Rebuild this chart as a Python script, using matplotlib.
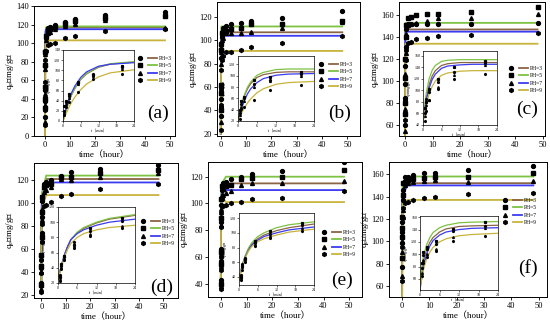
import matplotlib.pyplot as plt
from matplotlib.lines import Line2D
from matplotlib.legend_handler import HandlerTuple

plt.rcParams['font.family'] = ['Liberation Serif', 'Noto Sans CJK SC']
plt.rcParams['mathtext.fontset'] = 'stix'

ph_labels = ['PH=3', 'PH=5', 'PH=7', 'PH=9']
t_min = [0.5, 1, 2, 5, 10, 20]          # early samples (min), shown in inset
t_hr = [1, 2, 4, 8, 12, 24, 48]         # later samples (hour)
fit_min = [0, 1, 2, 3, 4, 6, 8, 12, 16, 24]

# (a)
a_in = [[20, 38, 50, 75, 92, 106], [30, 40, 53, 77, 90, 108],
        [15, 33, 45, 72, 88, 103], [12, 28, 38, 58, 82, 92]]
a_hr = [[116, 117, 120, 123, 126, 130, 134], [113, 115, 117, 121, 124, 127, 129],
        [111, 112, 115, 119, 121, 125, 116], [98, 99, 100, 106, 108, 113, 115]]
a_fit = [[0, 21, 39, 53, 64, 82, 93, 106, 112, 116], [0, 21, 39, 53, 65, 82, 94, 107, 113, 117],
         [0, 24, 42, 57, 69, 86, 97, 108, 112, 115], [0, 14, 27, 38, 47, 62, 73, 87, 95, 101]]
a_qe = [117, 118, 115, 103]

# (b)
b_in = [[35, 50, 60, 85, 93, 103], [40, 55, 62, 92, 97, 106],
        [30, 45, 55, 80, 90, 100], [23, 42, 45, 58, 75, 83]]
b_hr = [[111, 112, 114, 115, 117, 119, 125], [107, 108, 110, 111, 114, 114, 117],
        [102, 106, 106, 106, 107, 111, 116], [87, 90, 90, 92, 94, 98, 104]]
b_fit = [[20, 45, 64, 77, 86, 97, 102, 106, 107, 107], [20, 47, 66, 80, 89, 101, 106, 111, 112, 112],
         [20, 40, 56, 68, 77, 88, 95, 101, 103, 104], [20, 33, 43, 52, 59, 70, 77, 85, 88, 90]]
b_qe = [107, 112, 104, 91]

# (c)
c_in = [[60, 85, 97, 114, 131, 147], [70, 80, 103, 120, 140, 151],
        [55, 75, 83, 106, 126, 143], [47, 65, 83, 103, 119, 128]]
c_hr = [[152, 152, 152, 152, 152, 152, 153], [157, 158, 160, 161, 161, 163, 167],
        [151, 152, 153, 155, 157, 157, 161], [135, 136, 138, 139, 141, 142, 144]]
c_fit = [[45, 85, 110, 125, 134, 143, 146, 148, 148, 148], [45, 94, 120, 135, 143, 150, 152, 153, 153, 153],
         [45, 81, 104, 119, 128, 138, 142, 144, 145, 145], [45, 74, 94, 107, 116, 126, 130, 133, 134, 134]]
c_qe = [147, 153, 145, 134]

# (d)
d_in = [[30, 43, 54, 74, 88, 102], [28, 45, 55, 70, 92, 105],
        [25, 40, 52, 68, 85, 95], [22, 39, 50, 66, 82, 92]]
d_hr = [[117, 118, 120, 124, 127, 130, 133], [114, 116, 117, 123, 123, 126, 129],
        [110, 111, 114, 121, 120, 123, 126], [97, 98, 101, 106, 108, 112, 117]]
d_fit = [[25, 42, 57, 68, 77, 86, 92, 99, 104, 109], [25, 42, 57, 68, 77, 87, 93, 100, 105, 110],
         [25, 42, 57, 68, 77, 85, 90, 96, 100, 104], [25, 40, 54, 64, 72, 80, 85, 90, 93, 96]]
d_qe = [121, 124, 118, 107]

# (e)
e_in = [[43, 57, 66, 86, 99, 110], [40, 55, 64, 89, 103, 113],
        [38, 53, 62, 84, 96, 106], [36, 50, 60, 82, 93, 103]]
e_hr = [[115, 116, 118, 120, 122, 124, 131], [111, 113, 114, 118, 119, 120, 125],
        [106, 108, 109, 114, 115, 115, 117], [98, 99, 100, 101, 103, 104, 109]]
e_fit = [[36, 55, 68, 77, 84, 92, 97, 103, 107, 112], [36, 56, 69, 79, 86, 95, 100, 107, 111, 115],
         [36, 55, 67, 76, 83, 90, 95, 100, 104, 108], [36, 54, 66, 75, 81, 88, 92, 97, 101, 105]]
e_qe = [115, 120, 110, 101]

# (f)
f_in = [[77, 98, 108, 117, 137, 146], [85, 104, 112, 122, 141, 152],
        [69, 90, 100, 109, 128, 142], [64, 85, 95, 105, 121, 130]]
f_hr = [[158, 158, 159, 161, 161, 164, 167], [153, 155, 156, 157, 158, 158, 161],
        [150, 152, 153, 154, 155, 153, 154], [134, 135, 137, 139, 140, 142, 143]]
f_fit = [[55, 88, 107, 119, 127, 136, 141, 145, 146, 147], [60, 95, 115, 127, 135, 143, 147, 151, 152, 153],
         [42, 78, 100, 113, 122, 131, 136, 140, 142, 143], [45, 74, 92, 103, 111, 120, 125, 130, 132, 134]]
f_qe = [152, 158, 150, 137]

colors = ['#8b6446', '#7dc242', '#3b3bf2', '#c8b43c']
markers = ['o', 's', '^', 'h']

W, H = 550, 321


def rect(x0, y0, x1, y1):
    return [x0 / W, 1 - y1 / H, (x1 - x0) / W, (y1 - y0) / H]


# layout in pixels: main box, xlim, ylim, yticks, inset box, inset ylim, legend corner, label
panels = [
    ('(a)', a_in, a_hr, a_fit, a_qe, (34, 6, 175, 136), (-4.4, 52), (0, 140), range(0, 141, 20),
     (63, 50, 134, 121), (0, 140), (133, 53), (158, 113)),
    ('(b)', b_in, b_hr, b_fit, b_qe, (217, 2, 360, 136), (-1.5, 55), (18, 133), range(20, 121, 20),
     (238, 56, 314, 121), (20, 135), (314, 59), (340, 113)),
    ('(c)', c_in, c_hr, c_fit, c_qe, (399, 2, 545, 136), (-2.2, 50.7), (50, 172), range(60, 161, 20),
     (423, 51, 497, 125), (40, 168), (504, 63), (527, 109)),
    ('(d)', d_in, d_hr, d_fit, d_qe, (34, 163, 178, 298), (-3, 56), (17, 135), range(20, 121, 20),
     (58, 207, 135, 283), (20, 120), (136, 216), (162, 287)),
    ('(e)', e_in, e_hr, e_fit, e_qe, (208, 162, 362, 297), (-5, 55), (30, 131), range(40, 121, 20),
     (239, 213, 314, 285), (29, 127), (317, 227), (342, 280)),
    ('(f)', f_in, f_hr, f_fit, f_qe, (389, 162, 547, 297), (-4.8, 53), (50, 171), range(60, 161, 20),
     (420, 216, 498, 290), (42, 162), (498, 195), (528, 268)),
]

fig = plt.figure(figsize=(W / 100, H / 100), dpi=100)

for (lab, pin, phr, pfit, pqe, box, xl, yl, yt, ibox, iyl, legxy, labxy) in panels:
    ax = fig.add_axes(rect(*box))
    handles = []
    for i in range(4):
        # fitted curve: early part (min -> hour) then plateau
        cx = [t / 60 for t in fit_min] + [2, 48]
        cy = pfit[i] + [pqe[i], pqe[i]]
        ln, = ax.plot(cx, cy, color=colors[i], lw=1.3, zorder=2)
        sx = [t / 60 for t in t_min] + t_hr
        sy = pin[i] + phr[i]
        ax.plot(sx, sy, ls='none', marker=markers[i], color='black', ms=2.8, zorder=3)
        mk = Line2D([], [], ls='none', marker=markers[i], color='black', ms=2.8)
        handles.append((mk, ln))
    ax.set_xlim(*xl)
    ax.set_ylim(*yl)
    ax.set_xticks([0, 10, 20, 30, 40, 50])
    ax.set_yticks(list(yt))
    ax.tick_params(labelsize=6, length=2, width=0.6, pad=1.5)
    for s in ax.spines.values():
        s.set_linewidth(0.7)
    ax.set_xlabel('time（hour）', fontsize=6.5, labelpad=1)
    ax.set_ylabel('q$_\\mathregular{e}$（mg/g）', fontsize=6.5, labelpad=0.5)

    leg = ax.legend(handles, ph_labels, handler_map={tuple: HandlerTuple(ndivide=None, pad=0.6)},
                    loc='upper left', bbox_to_anchor=(legxy[0] / W, 1 - legxy[1] / H),
                    bbox_transform=fig.transFigure, frameon=False, fontsize=4,
                    handlelength=3.8, handletextpad=0.3, labelspacing=0.45, borderpad=0)

    fig.text(labxy[0] / W, 1 - labxy[1] / H, lab, fontsize=14, ha='center', va='center')

    ins = fig.add_axes(rect(*ibox))
    for i in range(4):
        ins.plot(fit_min, pfit[i], color=colors[i], lw=0.9, zorder=2)
        ins.plot(t_min, pin[i], ls='none', marker=markers[i], color='black', ms=1.3, zorder=3)
    ins.set_xlim(0, 24)
    ins.set_ylim(*iyl)
    ins.set_xticks([0, 6, 12, 18, 24])
    ins.tick_params(labelsize=3, length=1.2, width=0.4, pad=0.8)
    for s in ins.spines.values():
        s.set_linewidth(0.5)
    ins.set_xlabel('t（min）', fontsize=3, labelpad=0.5)
    ins.set_ylabel('q$_\\mathregular{t}$（mg/g）', fontsize=3, labelpad=0.5)

fig.savefig('out.png', dpi=100)
